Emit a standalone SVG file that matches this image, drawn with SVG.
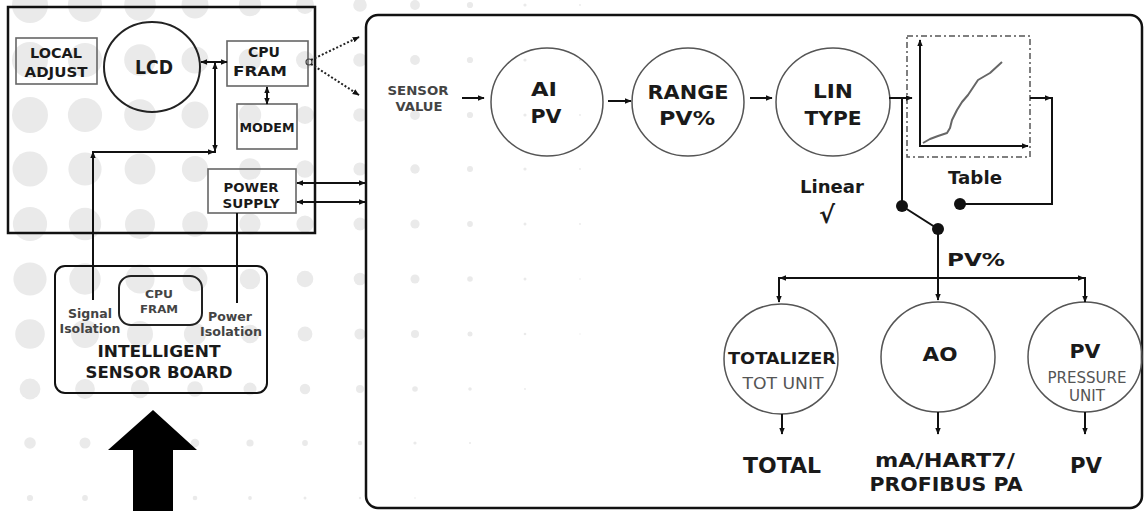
<svg xmlns="http://www.w3.org/2000/svg" width="1144" height="511" viewBox="0 0 1144 511">
<style>
.t{font-family:"DejaVu Sans","Liberation Sans",sans-serif;font-weight:bold;fill:#1a1a1a;text-anchor:middle}
.g{fill:#444}
.r{font-weight:normal;fill:#555}
.box{fill:none;stroke:#666;stroke-width:1.6}
.node{fill:none;stroke:#555;stroke-width:1.5}
.ln{fill:none;stroke:#111;stroke-width:2}
.dt{fill:#111}
.bg{fill:#eaeaea}
</style>
<defs>
<marker id="a" viewBox="0 0 10 10" refX="9" refY="5" markerWidth="7" markerHeight="7" markerUnits="userSpaceOnUse" orient="auto-start-reverse"><path d="M0,1 L10,5 L0,9 z" fill="#111"/></marker>
</defs>
<rect width="1144" height="511" fill="#fff"/>
<g id="background">
<g class="bg">
<circle cx="30" cy="5" r="18"/><circle cx="85" cy="5" r="17.1"/><circle cx="140" cy="5" r="15.8"/><circle cx="195" cy="5" r="13.5"/><circle cx="250" cy="5" r="11.2"/><circle cx="305" cy="5" r="9"/><circle cx="360" cy="5" r="6.8"/><circle cx="415" cy="5" r="4.9"/><circle cx="470" cy="5" r="3.1"/><circle cx="525" cy="5" r="1.6"/><circle cx="580" cy="5" r="0.9"/>
<circle cx="30" cy="60" r="18"/><circle cx="85" cy="60" r="17.1"/><circle cx="140" cy="60" r="15.8"/><circle cx="195" cy="60" r="13.5"/><circle cx="250" cy="60" r="11.2"/><circle cx="305" cy="60" r="9"/><circle cx="360" cy="60" r="6.8"/><circle cx="415" cy="60" r="4.9"/><circle cx="470" cy="60" r="3.1"/><circle cx="525" cy="60" r="1.6"/><circle cx="580" cy="60" r="0.9"/>
<circle cx="30" cy="115" r="18"/><circle cx="85" cy="115" r="17.1"/><circle cx="140" cy="115" r="15.8"/><circle cx="195" cy="115" r="13.5"/><circle cx="250" cy="115" r="11.2"/><circle cx="305" cy="115" r="9"/><circle cx="360" cy="115" r="6.8"/><circle cx="415" cy="115" r="4.9"/><circle cx="470" cy="115" r="3.1"/><circle cx="525" cy="115" r="1.6"/><circle cx="580" cy="115" r="0.9"/>
<circle cx="30" cy="169" r="17.5"/><circle cx="85" cy="169" r="16.6"/><circle cx="140" cy="169" r="15.4"/><circle cx="195" cy="169" r="13.1"/><circle cx="250" cy="169" r="10.8"/><circle cx="305" cy="169" r="8.7"/><circle cx="360" cy="169" r="6.6"/><circle cx="415" cy="169" r="4.7"/><circle cx="470" cy="169" r="3"/><circle cx="525" cy="169" r="1.6"/><circle cx="580" cy="169" r="0.9"/>
<circle cx="30" cy="224" r="17.1"/><circle cx="85" cy="224" r="16.2"/><circle cx="140" cy="224" r="15"/><circle cx="195" cy="224" r="12.8"/><circle cx="250" cy="224" r="10.6"/><circle cx="305" cy="224" r="8.6"/><circle cx="360" cy="224" r="6.5"/><circle cx="415" cy="224" r="4.6"/><circle cx="470" cy="224" r="2.9"/><circle cx="525" cy="224" r="1.5"/><circle cx="580" cy="224" r="0.9"/>
<circle cx="30" cy="279" r="16.6"/><circle cx="85" cy="279" r="15.7"/><circle cx="140" cy="279" r="14.6"/><circle cx="195" cy="279" r="12.4"/><circle cx="250" cy="279" r="10.3"/><circle cx="305" cy="279" r="8.3"/><circle cx="360" cy="279" r="6.3"/><circle cx="415" cy="279" r="4.5"/><circle cx="470" cy="279" r="2.8"/><circle cx="525" cy="279" r="1.5"/><circle cx="580" cy="279" r="0.8"/>
<circle cx="30" cy="334" r="14.8"/><circle cx="85" cy="334" r="14"/><circle cx="140" cy="334" r="13"/><circle cx="195" cy="334" r="11.1"/><circle cx="250" cy="334" r="9.2"/><circle cx="305" cy="334" r="7.4"/><circle cx="360" cy="334" r="5.6"/><circle cx="415" cy="334" r="4"/><circle cx="470" cy="334" r="2.5"/><circle cx="525" cy="334" r="1.3"/><circle cx="580" cy="334" r="0.7"/>
<circle cx="30" cy="389" r="10.4"/><circle cx="85" cy="389" r="9.9"/><circle cx="140" cy="389" r="9.2"/><circle cx="195" cy="389" r="7.8"/><circle cx="250" cy="389" r="6.5"/><circle cx="305" cy="389" r="5.2"/><circle cx="360" cy="389" r="4"/><circle cx="415" cy="389" r="2.8"/><circle cx="470" cy="389" r="1.8"/><circle cx="525" cy="389" r="0.9"/>
<circle cx="30" cy="443" r="5.8"/><circle cx="85" cy="443" r="5.5"/><circle cx="140" cy="443" r="5.1"/><circle cx="195" cy="443" r="4.3"/><circle cx="250" cy="443" r="3.6"/><circle cx="305" cy="443" r="2.9"/><circle cx="360" cy="443" r="2.2"/><circle cx="415" cy="443" r="1.6"/><circle cx="470" cy="443" r="1"/>
<circle cx="30" cy="498" r="3.1"/><circle cx="85" cy="498" r="2.9"/><circle cx="140" cy="498" r="2.7"/><circle cx="195" cy="498" r="2.3"/><circle cx="250" cy="498" r="1.9"/><circle cx="305" cy="498" r="1.5"/><circle cx="360" cy="498" r="1.2"/><circle cx="415" cy="498" r="0.8"/>
</g>
</g>

<g id="transmitter">
<rect x="8" y="7" width="307" height="226" fill="none" stroke="#111" stroke-width="2.5"/>
</g>
<g id="local-adjust">
<rect class="box" x="16" y="38" width="81" height="46"/>
<text class="t" x="56" y="58" font-size="13.5" textLength="52" lengthAdjust="spacingAndGlyphs">LOCAL</text>
<text class="t" x="56" y="77" font-size="13.5" textLength="63" lengthAdjust="spacingAndGlyphs">ADJUST</text>
</g>
<g id="lcd">
<ellipse cx="152" cy="67" rx="48" ry="45" fill="none" stroke="#222" stroke-width="2"/>
<text class="t" x="154" y="74" font-size="19" textLength="38" lengthAdjust="spacingAndGlyphs">LCD</text>
</g>
<g id="cpu-fram">
<rect class="box" x="227" y="41" width="81" height="45"/>
<text class="t" x="264" y="57" font-size="13.5" textLength="32" lengthAdjust="spacingAndGlyphs">CPU</text>
<text class="t" x="260" y="76" font-size="13.5" textLength="54" lengthAdjust="spacingAndGlyphs">FRAM</text>
</g>
<g id="modem">
<rect class="box" x="237" y="104" width="60" height="45"/>
<text class="t" x="267" y="132" font-size="12.5" textLength="55" lengthAdjust="spacingAndGlyphs">MODEM</text>
</g>
<g id="power-supply">
<rect class="box" x="208" y="169" width="88" height="44"/>
<text class="t" x="251" y="192" font-size="13" textLength="55" lengthAdjust="spacingAndGlyphs">POWER</text>
<text class="t" x="251" y="208" font-size="13" textLength="57" lengthAdjust="spacingAndGlyphs">SUPPLY</text>
</g>
<g id="sensor-board">
<rect x="55" y="266" width="212" height="127" rx="10" fill="none" stroke="#111" stroke-width="2"/>
<rect x="119" y="276" width="83" height="49" rx="12" fill="none" stroke="#222" stroke-width="2"/>
<text class="t g" x="159" y="298" font-size="11" textLength="28" lengthAdjust="spacingAndGlyphs">CPU</text>
<text class="t g" x="159" y="313" font-size="11" textLength="38" lengthAdjust="spacingAndGlyphs">FRAM</text>
<text class="t g" x="90" y="318" font-size="11.5" textLength="44" lengthAdjust="spacingAndGlyphs">Signal</text>
<text class="t g" x="90" y="333" font-size="11.5" textLength="61" lengthAdjust="spacingAndGlyphs">Isolation</text>
<text class="t g" x="230" y="321" font-size="11.5" textLength="44" lengthAdjust="spacingAndGlyphs">Power</text>
<text class="t g" x="231" y="336" font-size="11.5" textLength="62" lengthAdjust="spacingAndGlyphs">Isolation</text>
<text class="t" x="159" y="357" font-size="15" textLength="123" lengthAdjust="spacingAndGlyphs">INTELLIGENT</text>
<text class="t" x="159" y="378" font-size="15" textLength="147" lengthAdjust="spacingAndGlyphs">SENSOR BOARD</text>
</g>
<g id="input-arrow">
<polygon points="153,410 197,450 173,450 173,511 133,511 133,450 108,450" fill="#000"/>
</g>

<g id="function-blocks-panel">
<rect x="366" y="15" width="776" height="493" rx="12" fill="none" stroke="#111" stroke-width="2.5"/>
<text class="t g" x="418" y="95" font-size="12" textLength="61" lengthAdjust="spacingAndGlyphs">SENSOR</text>
<text class="t g" x="419" y="111" font-size="12" textLength="47" lengthAdjust="spacingAndGlyphs">VALUE</text>
</g>
<g id="ai-pv">
<ellipse class="node" cx="547" cy="102" rx="56" ry="54"/>
<text class="t" x="544" y="96" font-size="20" textLength="26" lengthAdjust="spacingAndGlyphs">AI</text>
<text class="t" x="546" y="123" font-size="20" textLength="31" lengthAdjust="spacingAndGlyphs">PV</text>
</g>
<g id="range">
<ellipse class="node" cx="688" cy="102" rx="56" ry="54"/>
<text class="t" x="688" y="99" font-size="20" textLength="81" lengthAdjust="spacingAndGlyphs">RANGE</text>
<text class="t" x="687" y="125" font-size="20" textLength="56" lengthAdjust="spacingAndGlyphs">PV%</text>
</g>
<g id="lin-type">
<ellipse class="node" cx="833" cy="102" rx="57" ry="54"/>
<text class="t" x="833" y="98" font-size="20" textLength="40" lengthAdjust="spacingAndGlyphs">LIN</text>
<text class="t" x="833" y="125" font-size="20" textLength="57" lengthAdjust="spacingAndGlyphs">TYPE</text>
<text class="t" x="832" y="193" font-size="17" fill="#333" textLength="64" lengthAdjust="spacingAndGlyphs">Linear</text>
<text class="t" x="827" y="223" font-size="24">√</text>
</g>
<g id="table">
<rect x="907" y="36" width="123" height="121" fill="none" stroke="#555" stroke-width="1.5" stroke-dasharray="6 3 2 3"/>
<line class="ln" x1="920" y1="147" x2="920" y2="40" marker-end="url(#a)"/>
<line class="ln" x1="920" y1="146" x2="1028" y2="146" marker-end="url(#a)"/>
<polyline points="923,143 930,139 938,136 947,133 950,128 952,120 957,110 962,102 968,95 978,80 990,73 1002,62" fill="none" stroke="#666" stroke-width="2" stroke-linejoin="round"/>
<text class="t" x="975" y="184" font-size="18" fill="#333" textLength="54" lengthAdjust="spacingAndGlyphs">Table</text>
</g>
<g id="totalizer">
<ellipse class="node" cx="781" cy="359" rx="57" ry="55"/>
<text class="t" x="782" y="364" font-size="15" textLength="108" lengthAdjust="spacingAndGlyphs">TOTALIZER</text>
<text class="t r" x="783" y="389" font-size="16" textLength="81" lengthAdjust="spacingAndGlyphs">TOT UNIT</text>
</g>
<g id="ao">
<ellipse class="node" cx="938" cy="357" rx="57" ry="55"/>
<text class="t" x="940" y="361" font-size="20" textLength="35" lengthAdjust="spacingAndGlyphs">AO</text>
</g>
<g id="pv">
<ellipse class="node" cx="1085" cy="357" rx="57" ry="55"/>
<text class="t" x="1085" y="358" font-size="20" textLength="31" lengthAdjust="spacingAndGlyphs">PV</text>
<text class="t r" x="1087" y="383" font-size="15" textLength="79" lengthAdjust="spacingAndGlyphs">PRESSURE</text>
<text class="t r" x="1087" y="401" font-size="15" textLength="36" lengthAdjust="spacingAndGlyphs">UNIT</text>
</g>
<g id="outputs">
<text class="t" x="782" y="473" font-size="21" textLength="78" lengthAdjust="spacingAndGlyphs">TOTAL</text>
<text class="t" x="945" y="467" font-size="19" textLength="140" lengthAdjust="spacingAndGlyphs">mA/HART7/</text>
<text class="t" x="946" y="491" font-size="19" textLength="153" lengthAdjust="spacingAndGlyphs">PROFIBUS PA</text>
<text class="t" x="1086" y="473" font-size="21" textLength="32" lengthAdjust="spacingAndGlyphs">PV</text>
<text class="t" x="976" y="266" font-size="18" textLength="58" lengthAdjust="spacingAndGlyphs">PV%</text>
</g>

<g id="connectors">
<line class="ln" x1="201" y1="62" x2="227" y2="62" marker-start="url(#a)" marker-end="url(#a)"/>
<path class="ln" d="M93,300 V152 H215 V62"/>
<line class="ln" x1="93" y1="162" x2="93" y2="152" marker-end="url(#a)"/>
<line class="ln" x1="204" y1="152" x2="214" y2="152" marker-end="url(#a)"/>
<line class="ln" x1="215" y1="140" x2="215" y2="151" marker-end="url(#a)"/>
<line class="ln" x1="215" y1="74" x2="215" y2="63" marker-end="url(#a)"/>
<line class="ln" x1="267" y1="87" x2="267" y2="104" marker-start="url(#a)" marker-end="url(#a)"/>
<circle cx="309" cy="62" r="3" fill="none" stroke="#444" stroke-width="1.2"/>
<line x1="311" y1="60" x2="359" y2="37" stroke="#222" stroke-width="2" stroke-dasharray="2 2" marker-end="url(#a)"/>
<line x1="311" y1="64" x2="359" y2="95" stroke="#222" stroke-width="2" stroke-dasharray="2 2" marker-end="url(#a)"/>
<line class="ln" x1="297" y1="183" x2="365" y2="183" marker-start="url(#a)" marker-end="url(#a)"/>
<line class="ln" x1="297" y1="202" x2="365" y2="202" marker-start="url(#a)" marker-end="url(#a)"/>
<line class="ln" x1="237" y1="213" x2="237" y2="303"/>
<line class="ln" x1="462" y1="98" x2="484" y2="98" marker-end="url(#a)"/>
<line class="ln" x1="608" y1="101" x2="631" y2="101" marker-end="url(#a)"/>
<line class="ln" x1="750" y1="98" x2="772" y2="98" marker-end="url(#a)"/>
<line class="ln" x1="889" y1="98" x2="912" y2="98" marker-end="url(#a)"/>
<path class="ln" d="M902,98 V206 L938,229 V300" marker-end="url(#a)"/>
<circle class="dt" cx="902" cy="206" r="6"/>
<circle class="dt" cx="938" cy="229" r="6"/>
<path class="ln" d="M1030,98 H1052 V204 H962"/>
<line class="ln" x1="1040" y1="98" x2="1051" y2="98" marker-end="url(#a)"/>
<circle class="dt" cx="960" cy="204" r="6"/>
<path class="ln" d="M938,278 H779 V302" marker-end="url(#a)"/>
<path class="ln" d="M938,278 H1085 V302" marker-end="url(#a)"/>
<line class="ln" x1="790" y1="278" x2="780" y2="278" marker-end="url(#a)"/>
<line class="ln" x1="1074" y1="278" x2="1084" y2="278" marker-end="url(#a)"/>
<line class="ln" x1="782" y1="414" x2="782" y2="434" marker-end="url(#a)"/>
<line class="ln" x1="938" y1="412" x2="938" y2="434" marker-end="url(#a)"/>
<line class="ln" x1="1085" y1="412" x2="1085" y2="434" marker-end="url(#a)"/>
</g>
</svg>
